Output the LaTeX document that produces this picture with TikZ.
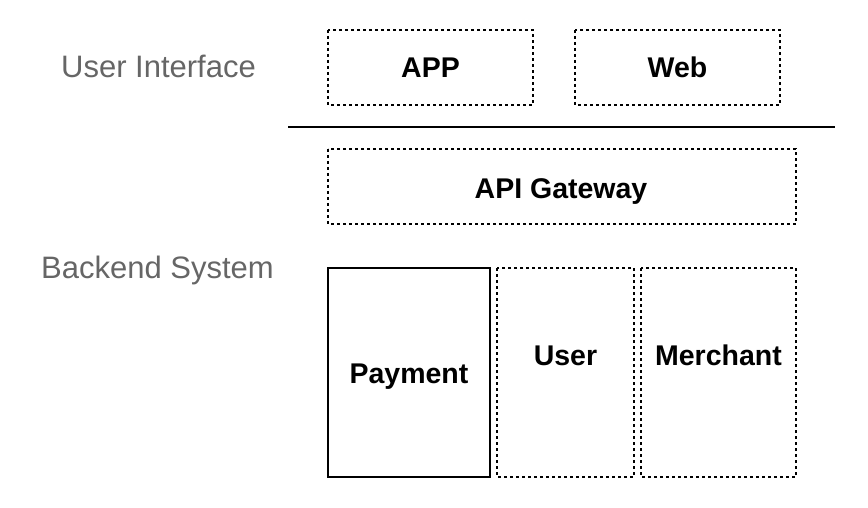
\documentclass[tikz,border=0pt]{standalone}
\usepackage{fontspec}
\setmainfont{Liberation Sans}
\begin{document}
\begin{tikzpicture}[x=1pt,y=-1pt,
  dbox/.style={draw, line width=2pt, dash pattern=on 3pt off 3pt},
  sbox/.style={draw, line width=2pt},
  btxt/.style={anchor=base, inner sep=0pt, font=\fontsize{28.5}{32}\selectfont\bfseries, text=black},
  gtxt/.style={anchor=base, inner sep=0pt, font=\fontsize{31}{35}\selectfont, text={rgb,255:red,102;green,102;blue,102}}]
\useasboundingbox[fill=white] (0,0) rectangle (868,508);
% boxes
\draw[dbox] (328,30) rectangle (533,105);
\node[btxt] (app) at (430.5,78) {APP};
\draw[dbox] (575,30) rectangle (780,105);
\node[btxt] (web) at (677.5,78) {Web};
\coordinate (l1) at (288,127);
\coordinate (l2) at (835,127);
\draw[line width=2pt] (l1) -- (l2);
\draw[dbox] (328,149) rectangle (796,224);
\node[btxt] (gw) at (561,198) {API Gateway};
\draw[sbox] (328,268) rectangle (490,477);
\node[btxt] (pay) at (409,383) {Payment};
\draw[dbox] (497,268) rectangle (634,477);
\node[btxt] (user) at (565.5,365) {User};
\draw[dbox] (641,268) rectangle (796,477);
\node[btxt] (mer) at (718.5,365) {Merchant};
\node[gtxt] (ui) at (158.5,78) {User Interface};
\node[gtxt] (be) at (157.5,278) {Backend System};
\end{tikzpicture}
\end{document}
